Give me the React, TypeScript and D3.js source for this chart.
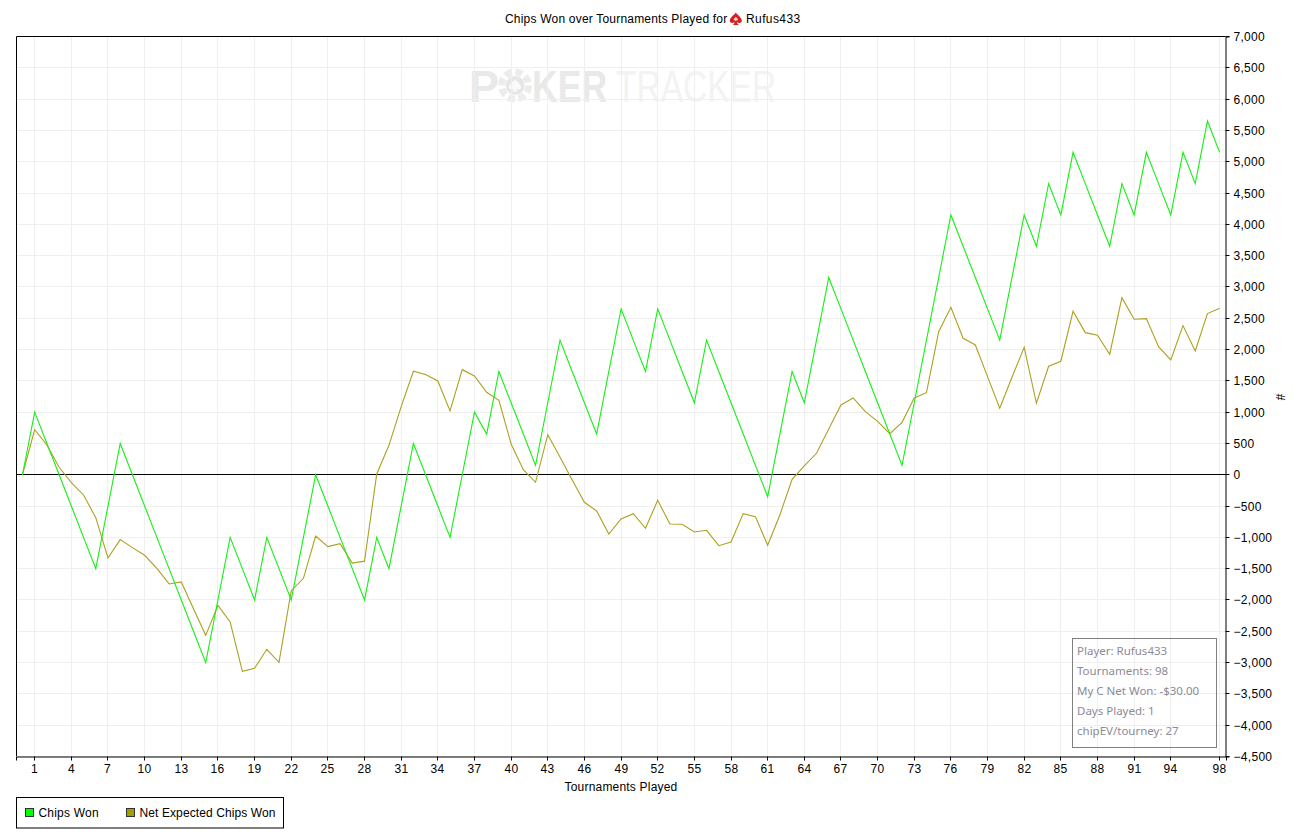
import React, { useEffect, useRef } from 'react';
import * as d3 from 'd3';

const chipsWon = [
  0, 1000, 500, 0, -500, -1000, -1500, -500, 500, 0, -500, -1000, -1500, -2000, -2500, -3000, -2000, -1000, -1500, -2000,
  -1000, -1500, -2000, -1000, 0, -500, -1000, -1500, -2000, -1000, -1500, -500, 500, 0, -500, -1000, 0, 1000, 650, 1650,
  1150, 650, 150, 1150, 2150, 1650, 1150, 650, 1650, 2650, 2150, 1650, 2650, 2150, 1650, 1150, 2150, 1650, 1150, 650,
  150, -350, 650, 1650, 1150, 2150, 3150, 2650, 2150, 1650, 1150, 650, 150, 1150, 2150, 3150, 4150, 3650, 3150, 2650,
  2150, 3150, 4150, 3650, 4650, 4150, 5150, 4650, 4150, 3650, 4650, 4150, 5150, 4650, 4150, 5150, 4650, 5650, 5150,
];

const netExpected = [
  0, 720, 476, 120, -126, -323, -685, -1329, -1036, -1164, -1286, -1494, -1744, -1712, -2139, -2565, -2085, -2351, -3139, -3092,
  -2788, -2996, -1851, -1654, -978, -1148, -1100, -1410, -1380, 13, 470, 1088, 1653, 1600, 1498, 1019, 1679, 1578, 1317, 1190,
  492, 82, -120, 641, 285, -83, -440, -578, -946, -706, -621, -855, -408, -786, -791, -914, -887, -1133, -1073, -621,
  -669, -1127, -642, -72, 141, 343, 732, 1115, 1227, 1008, 854, 657, 838, 1227, 1311, 2286, 2675, 2180, 2073, 1568,
  1062, 1557, 2036, 1142, 1733, 1813, 2611, 2270, 2228, 1925, 2829, 2484, 2494, 2046, 1834, 2382, 1978, 2574, 2660,
];

const xTicks = [1, 4, 7, 10, 13, 16, 19, 22, 25, 28, 31, 34, 37, 40, 43, 46, 49, 52, 55, 58, 61, 64, 67, 70, 73, 76, 79, 82, 85, 88, 91, 94, 98];
const yTicks = d3.range(-4500, 7001, 500);
const statLines = ['Player: Rufus433', 'Tournaments: 98', 'My C Net Won: -$30.00', 'Days Played: 1', 'chipEV/tourney: 27'];

const sans = '"Liberation Sans", Arial, sans-serif';
const spade = 'M0,-6.5 C1.5,-4 6,-1.5 6,1.8 C6,4 3.4,4.6 1.2,3 C1.4,4.6 2,5.4 3.2,6 L-3.2,6 C-2,5.4 -1.4,4.6 -1.2,3 C-3.4,4.6 -6,4 -6,1.8 C-6,-1.5 -1.5,-4 0,-6.5 Z';

const App: React.FC = () => {
  const svgRef = useRef<SVGSVGElement>(null);

  useEffect(() => {
    const svg = d3.select(svgRef.current);
    svg.selectAll('*').remove();

    const x = d3.scaleLinear().domain([-0.53, 98.52]).range([16, 1226]);
    const y = d3.scaleLinear().domain([-4500, 7000]).range([756.5, 36.5]);
    const px = (v: number) => Math.floor(x(v)) + 0.5;
    const py = (v: number) => Math.floor(y(v)) + 0.5;

    svg.append('text').attr('x', 505).attr('y', 23).attr('font-size', 12).attr('letter-spacing', 0.2).attr('fill', '#000').text('Chips Won over Tournaments Played for');
    svg.append('path').attr('d', spade).attr('transform', 'translate(735.8,19)').attr('fill', '#d81e1e');
    svg.append('path').attr('d', spade).attr('transform', 'translate(735.8,19) scale(0.35)').attr('fill', '#fbd0d0');
    svg.append('text').attr('x', 746).attr('y', 23).attr('font-size', 12).attr('letter-spacing', 0.4).attr('fill', '#000').text('Rufus433');

    // watermark
    const mark = svg.append('g');
    mark.append('text').attr('x', 469).attr('y', 102).attr('font-size', 45).attr('font-weight', 700).attr('fill', '#e9e9e9').text('P');
    mark.append('circle').attr('cx', 515).attr('cy', 85.5).attr('r', 13.5).attr('fill', 'none').attr('stroke', '#ececec').attr('stroke-width', 7).attr('stroke-dasharray', '7 3.6');
    mark.append('circle').attr('cx', 515).attr('cy', 85.5).attr('r', 9.5).attr('fill', '#e6e6e6');
    mark.append('path').attr('d', spade).attr('transform', 'translate(515,85.5)').attr('fill', '#fafafa');
    mark.append('text').attr('transform', 'translate(532,102) scale(0.79,1)').attr('font-size', 45).attr('font-weight', 700).attr('fill', '#e9e9e9').text('KER');
    mark.append('text').attr('transform', 'translate(616,102) scale(0.745,1)').attr('font-size', 45).attr('fill', '#f3f3f3').text('TRACKER');

    // grid
    const grid = svg.append('g').attr('stroke', '#efefef').attr('stroke-width', 1);
    grid.selectAll('.gx').data(xTicks).enter().append('line')
      .attr('x1', d => px(d)).attr('x2', d => px(d)).attr('y1', 36.5).attr('y2', 756.5);
    grid.selectAll('.gy').data(yTicks).enter().append('line')
      .attr('x1', 16.5).attr('x2', 1225.5).attr('y1', d => py(d)).attr('y2', d => py(d));

    // zero line
    svg.append('line').attr('x1', 16.5).attr('x2', 1225.5).attr('y1', py(0)).attr('y2', py(0)).attr('stroke', '#000');

    // lines
    const line = d3.line<number>().x((_, i) => x(i)).y(d => y(d));
    svg.append('path').datum(netExpected).attr('d', line).attr('fill', 'none').attr('stroke', '#aea020').attr('stroke-width', 1.1);
    svg.append('path').datum(chipsWon).attr('d', line).attr('fill', 'none').attr('stroke', '#14f014').attr('stroke-width', 1.1);

    // frame
    svg.append('path').attr('d', 'M16.5,756.5 V36.5 H1225.5').attr('fill', 'none').attr('stroke', '#000');

    // axes
    const xAxis = svg.append('g').attr('transform', 'translate(0,756.5)')
      .call(d3.axisBottom(x).tickValues(xTicks).tickSize(4).tickPadding(4).tickFormat(d3.format('d') as any));
    xAxis.selectAll<SVGGElement, number>('.tick').attr('transform', d => `translate(${px(d)},0)`);
    const yAxis = svg.append('g').attr('transform', 'translate(1225.5,0)')
      .call(d3.axisRight(y).tickValues(yTicks).tickSize(4).tickPadding(4).tickFormat(d3.format(',') as any));
    yAxis.selectAll<SVGGElement, number>('.tick').attr('transform', d => `translate(0,${py(d)})`);
    yAxis.selectAll('.tick text').attr('dy', '0.4em');
    [xAxis, yAxis].forEach(a => {
      a.attr('font-family', sans).attr('font-size', 12).attr('letter-spacing', 0.3);
      a.selectAll('.tick text').attr('fill', '#000');
      a.selectAll('.tick line').attr('stroke', '#000');
      a.selectAll('.domain').attr('stroke', '#000');
    });

    svg.append('text').attr('x', 621).attr('y', 791).attr('text-anchor', 'middle').attr('font-size', 12).attr('letter-spacing', 0.2).text('Tournaments Played');
    svg.append('text').attr('transform', 'translate(1276,397) rotate(90)').attr('text-anchor', 'middle').attr('font-size', 12).text('#');

    // stats box
    svg.append('rect').attr('x', 1072.5).attr('y', 638.5).attr('width', 144).attr('height', 109)
      .attr('fill', 'none').attr('stroke', '#808080');
    svg.selectAll('.stat').data(statLines).enter().append('text')
      .attr('x', 1077).attr('y', (_, i) => 655 + i * 20).attr('font-size', 11.5).attr('font-family', '"Noto Sans", sans-serif').attr('fill', '#8d8a96')
      .text(d => d);

    // legend
    const legend = svg.append('g');
    legend.append('rect').attr('x', 16.5).attr('y', 797.5).attr('width', 267).attr('height', 30.5).attr('fill', '#fff').attr('stroke', '#000');
    legend.append('rect').attr('x', 25.5).attr('y', 808.5).attr('width', 8).attr('height', 8).attr('fill', '#00ff00').attr('stroke', '#333');
    legend.append('text').attr('x', 38.5).attr('y', 817).attr('font-size', 12).attr('letter-spacing', 0.2).text('Chips Won');
    legend.append('rect').attr('x', 126.5).attr('y', 808.5).attr('width', 8).attr('height', 8).attr('fill', '#a0a000').attr('stroke', '#333');
    legend.append('text').attr('x', 139.5).attr('y', 817).attr('font-size', 12).attr('letter-spacing', 0.1).text('Net Expected Chips Won');
  }, []);

  return (
    <svg
      ref={svgRef}
      width={1300}
      height={835}
      style={{ position: 'absolute', left: 0, top: 0, background: '#fff', fontFamily: sans }}
    />
  );
};

export default App;
